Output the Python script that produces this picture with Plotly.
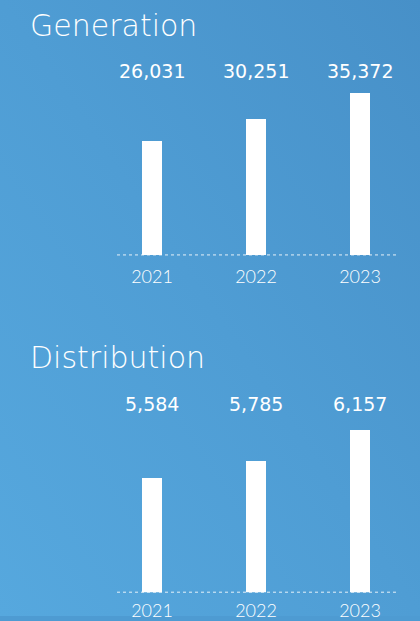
import base64
import plotly.graph_objects as go

years = ["2021", "2022", "2023"]
generation = [26031, 30251, 35372]
distribution = [5584, 5785, 6157]
section_titles = ["Generation", "Distribution"]

W, H = 420, 621


def py(pix):
    return 1 - pix / H


svg = (
    '<svg xmlns="http://www.w3.org/2000/svg" width="420" height="621">'
    '<defs><linearGradient id="g" x1="0" y1="1" x2="1" y2="0">'
    '<stop offset="0" stop-color="#56a8de"/>'
    '<stop offset="0.5" stop-color="#4f9dd4"/>'
    '<stop offset="1" stop-color="#4790c8"/>'
    '</linearGradient></defs>'
    '<rect width="420" height="621" fill="url(#g)"/></svg>'
)
bg_src = "data:image/svg+xml;base64," + base64.b64encode(svg.encode()).decode()

fig = go.Figure()
fig.add_trace(go.Bar(x=years, y=generation, width=0.2, marker=dict(color="white", line=dict(width=0)),
                     xaxis="x", yaxis="y", hoverinfo="skip"))
fig.add_trace(go.Bar(x=years, y=distribution, width=0.2, marker=dict(color="white", line=dict(width=0)),
                     xaxis="x2", yaxis="y2", hoverinfo="skip"))

x_dom = [117 / W, 398 / W]
x_rng = [-0.337, 2.365]
top_dom = [py(257), py(87)]
bot_dom = [py(597), py(427)]
top_rng = [3652, 3652 + 170 * 194.6]
bot_rng = [4199, 4199 + 170 * 11.94]

thin_family = "DejaVu Sans ExtraLight, DejaVu Sans, sans-serif"
year_font = dict(family="Lato, sans-serif", size=18, color="white", weight=300)
common_x = dict(range=x_rng, domain=x_dom, showgrid=False, zeroline=False, showline=False,
                ticks="", tickfont=year_font, fixedrange=True, type="category")
common_y = dict(showgrid=False, zeroline=False, showline=False, showticklabels=False, ticks="", fixedrange=True)

fig.update_layout(
    width=W, height=H, autosize=False,
    margin=dict(l=0, r=0, t=0, b=0),
    paper_bgcolor="#4e9bd2", plot_bgcolor="rgba(0,0,0,0)",
    showlegend=False, bargap=0,
    xaxis=dict(anchor="y", ticklabelstandoff=9, **common_x),
    yaxis=dict(anchor="x", domain=top_dom, range=top_rng, **common_y),
    xaxis2=dict(anchor="y2", ticklabelstandoff=6, **common_x),
    yaxis2=dict(anchor="x2", domain=bot_dom, range=bot_rng, **common_y),
    images=[dict(source=bg_src, xref="paper", yref="paper", x=0, y=1, sizex=1, sizey=1,
                 sizing="stretch", xanchor="left", yanchor="top", layer="below")],
)

# dotted baselines
for xr, yr in (("x", "y"), ("x2", "y2")):
    fig.add_shape(type="line", xref=f"{xr} domain", yref=f"{yr} domain", x0=0, x1=1, y0=0, y1=0,
                  line=dict(color="rgba(255,255,255,0.85)", width=1, dash="dot"))

# value labels (category index positions on the category axes)
val_font = dict(family="DejaVu Sans", size=19, color="white")
for vals, ypix, xr in ((generation, 72, "x"), (distribution, 407, "x2")):
    for i, v in enumerate(vals):
        fig.add_annotation(x=i, xref=xr, y=py(ypix), yref="paper", text=f"{v:,}",
                           showarrow=False, font=val_font, xanchor="center", yanchor="middle")

# section titles
title_font = dict(family=thin_family, size=30, color="white", weight=200)
for t, ypix in zip(section_titles, (26, 360)):
    fig.add_annotation(x=28 / W, xref="paper", y=py(ypix), yref="paper", text=t, showarrow=False,
                       font=title_font, xanchor="left", yanchor="middle")

fig.write_html("out.html", config={"displayModeBar": False},
               post_script="document.body.style.margin='0';document.body.style.overflow='hidden';")
